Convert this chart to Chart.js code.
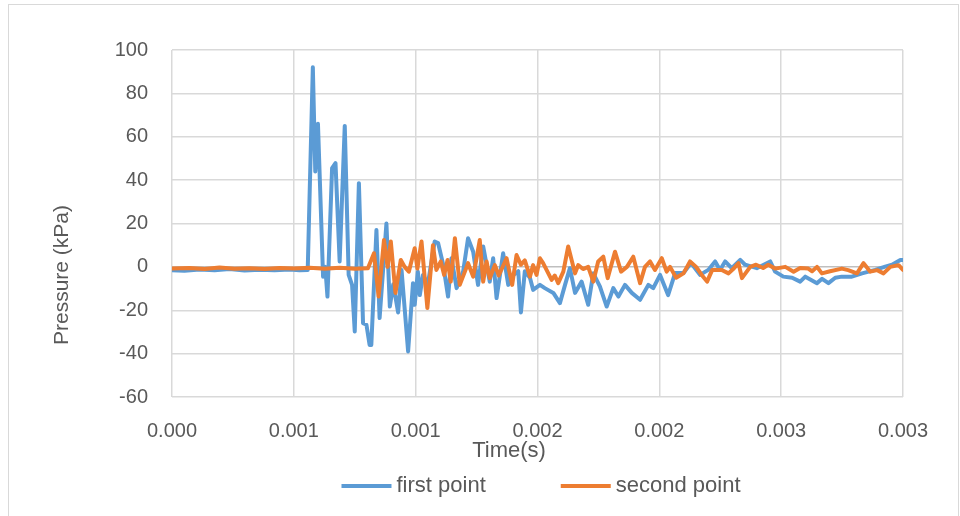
<!DOCTYPE html>
<html>
<head>
<meta charset="utf-8">
<script src="https://cdn.jsdelivr.net/npm/chart.js@4.4.1/dist/chart.umd.min.js"></script>
<style>
  html, body { margin: 0; padding: 0; background: #fff; }
  #wrap { position: relative; width: 960px; height: 516px; overflow: hidden; }
  #frame { position: absolute; left: 8px; top: 4px; width: 951px; height: 540px; border: 1px solid #d9d9d9; box-sizing: border-box; }
  #chart { position: absolute; left: 0; top: 0; }
</style>
</head>
<body>
<div id="wrap">
  <div id="frame"></div>
  <canvas id="chart" width="960" height="516"></canvas>
</div>
<script>
// time (s) and pressure (kPa)
const timeFirst = [0, 0.000051, 0.000113, 0.000175, 0.000236, 0.000298, 0.000359, 0.000421, 0.000483, 0.000524,
  0.000557, 0.000578, 0.000588, 0.000599, 0.000620, 0.000629, 0.000638, 0.000657, 0.000671, 0.000688,
  0.000709, 0.000725, 0.000739, 0.000750, 0.000767, 0.000784, 0.000798, 0.000811, 0.000818, 0.000839,
  0.000852, 0.000880, 0.000894, 0.000908, 0.000928, 0.000942, 0.000969, 0.000989, 0.000996, 0.001009,
  0.001017, 0.001030, 0.001050, 0.001078, 0.001092, 0.001113, 0.001133, 0.001147, 0.001168, 0.001195,
  0.001215, 0.001236, 0.001256, 0.001277, 0.001304, 0.001318, 0.001332, 0.001359, 0.001380, 0.001399,
  0.001421, 0.001432, 0.001448, 0.001469, 0.001482, 0.001510, 0.001530, 0.001565, 0.001592, 0.001613,
  0.001633, 0.001654, 0.001681, 0.001708, 0.001729, 0.001756, 0.001784, 0.001811, 0.001832, 0.001859,
  0.001887, 0.001921, 0.001955, 0.001975, 0.002003, 0.002036, 0.002065, 0.002099, 0.002130, 0.002167,
  0.002201, 0.002229, 0.002249, 0.002270, 0.002297, 0.002332, 0.002352, 0.002400, 0.002455, 0.002475,
  0.002509, 0.002545, 0.002578, 0.002599, 0.002647, 0.002668, 0.002694, 0.002722, 0.002749, 0.002790,
  0.002832, 0.002886, 0.002927, 0.002955, 0.002989, 0.003000];
const pressureFirst = [-1.5, -1.8, -1.2, -1.6, -1.0, -1.7, -1.3, -1.6, -1.2, -1.6,
  -1.4, 92, 44, 66, -4.5, 0, -13.7, 45.5, 47.8, 2.5,
  65, -3.7, -8.3, -29.8, 38.6, -26, -26.7, -36, -36, 17,
  -23.6, 20, -18.3, -8, -21, -1.4, -39, -7.5, -17.5, -2.2,
  -13, -3.7, -8, 11.7, 11, 1, -13.7, 4, -9.8, -2,
  13.2, 7, -8.3, 9.4, -6.8, 4, -14.4, 6.3, -8.3, -4,
  -2, -21, -2, -5, -10.6, -8.3, -9.8, -12, -16.7, -8.3,
  -0.6, -12, -6.8, -17.5, -3, -9, -18.3, -9.8, -13.7, -8.3,
  -12, -15.2, -8.3, -9.8, -3.7, -13, -2.8, -2.8, 1.8, -3.7,
  -1.4, 2.5, -1.4, 2.5, -0.6, 3.2, 1, -0.6, 2.5, -2.2,
  -4.5, -5, -6.8, -4.5, -7.5, -5.5, -7.5, -5, -4.5, -4.5,
  -3, -1.4, 0.1, 1, 3.2, 3.2];

const timeSecond = [0, 0.000072, 0.000134, 0.000195, 0.000257, 0.000318, 0.000380, 0.000442, 0.000503, 0.000565,
  0.000627, 0.000688, 0.000750, 0.000804, 0.000829, 0.000848, 0.000870, 0.000885, 0.000898, 0.000917,
  0.000939, 0.000955, 0.000972, 0.000996, 0.001007, 0.001024, 0.001048, 0.001071, 0.001085, 0.001103,
  0.001117, 0.001131, 0.001144, 0.001161, 0.001181, 0.001202, 0.001215, 0.001236, 0.001250, 0.001263,
  0.001277, 0.001291, 0.001304, 0.001325, 0.001341, 0.001373, 0.001396, 0.001414, 0.001432, 0.001448,
  0.001469, 0.001482, 0.001496, 0.001510, 0.001523, 0.001558, 0.001571, 0.001585, 0.001606, 0.001626,
  0.001654, 0.001667, 0.001687, 0.001708, 0.001729, 0.001749, 0.001770, 0.001788, 0.001818, 0.001843,
  0.001867, 0.001893, 0.001921, 0.001941, 0.001962, 0.001982, 0.002010, 0.002030, 0.002044, 0.002069,
  0.002099, 0.002126, 0.002151, 0.002174, 0.002196, 0.002217, 0.002256, 0.002284, 0.002303, 0.002325,
  0.002339, 0.002373, 0.002397, 0.002426, 0.002447, 0.002475, 0.002517, 0.002551, 0.002578, 0.002611,
  0.002627, 0.002647, 0.002667, 0.002701, 0.002749, 0.002775, 0.002811, 0.002838, 0.002866, 0.002894,
  0.002920, 0.002948, 0.002982, 0.003000];
const pressureSecond = [-0.8, -0.5, -1.0, -0.3, -0.9, -0.6, -1.0, -0.5, -0.8, -0.4,
  -0.9, -0.4, -0.9, -0.6, 6.3, -13.7, 12.4, 0, 11.7, -12,
  3.2, 0, -2.2, 8.6, -0.8, 11.7, -19, 10, -1.4, 2.5,
  -3.7, 3.2, -6.8, 13.2, -8.3, -2.2, 1.7, -4.5, 4, 12.4,
  -6.8, 2.5, -5.2, 0.8, -4, 4, -8.3, 5.5, 1, 3,
  -4.5, 0.8, -3.7, 4, 1.7, -6, -4, -7.5, -2.2, 9.4,
  -3, 0.8, -1, 0, -6.8, 2.5, 4.7, -5.2, 7, -2.2,
  0, 4.7, -7.5, 0, 2.5, -1.4, 4, -2.2, 0, -5,
  -3, 2.5, 0, -3.7, -6.8, -1.4, -1.4, -3, -1, 1.7,
  -5.2, 0, 1, -0.5, 1, -0.8, 0, -2.2, -0.5, -0.8,
  -2, 0, -3, -2, -0.8, -1.5, -3, 1.7, -2.2, -1.5,
  -3, 0, 0.8, -1.4];

const seriesNames = ['first point', 'second point'];
const seriesColors = ['#5B9BD5', '#ED7D31'];
// Excel rounds the 0.0005 steps to three decimals
const xTickLabels = ['0.000', '0.001', '0.001', '0.002', '0.002', '0.003', '0.003'];

const fontFamily = '"Liberation Sans", Arial, sans-serif';
const textColor = '#595959';
const gridColor = '#d9d9d9';

Chart.defaults.font.family = fontFamily;
Chart.defaults.color = textColor;

function toPoints(xs, ys) {
  return xs.map((x, i) => ({ x: x, y: ys[i] }));
}

function lineDataset(i, xs, ys, order) {
  return {
    label: seriesNames[i],
    data: toPoints(xs, ys),
    borderColor: seriesColors[i],
    backgroundColor: seriesColors[i],
    borderWidth: 4,
    borderJoinStyle: 'round',
    borderCapStyle: 'round',
    pointRadius: 0,
    tension: 0,
    order: order
  };
}

// axis titles and the legend are placed like the Excel original
const excelExtras = {
  id: 'excelExtras',
  afterDraw(chart) {
    const ctx = chart.ctx;
    ctx.save();
    ctx.fillStyle = textColor;
    ctx.textBaseline = 'middle';

    ctx.font = '21px ' + fontFamily;
    ctx.textAlign = 'center';
    ctx.save();
    ctx.translate(62, 275);
    ctx.rotate(-Math.PI / 2);
    ctx.fillText('Pressure (kPa)', 0, 0);
    ctx.restore();

    ctx.font = '22px ' + fontFamily;
    ctx.fillText('Time(s)', 509, 451);

    // legend
    const lineLen = 50, textGap = 5, itemGap = 75, legendY = 486;
    const widths = chart.data.datasets.map(ds => lineLen + textGap + ctx.measureText(ds.label).width);
    const total = widths.reduce((a, b) => a + b, 0) + itemGap * (widths.length - 1);
    let x = 541 - total / 2;
    ctx.textAlign = 'left';
    chart.data.datasets.forEach((ds, i) => {
      ctx.strokeStyle = ds.borderColor;
      ctx.lineWidth = 4;
      ctx.beginPath();
      ctx.moveTo(x, legendY);
      ctx.lineTo(x + lineLen, legendY);
      ctx.stroke();
      ctx.fillText(ds.label, x + lineLen + textGap, legendY);
      x += widths[i] + itemGap;
    });
    ctx.restore();
  }
};

new Chart(document.getElementById('chart'), {
  type: 'line',
  data: {
    datasets: [
      lineDataset(0, timeFirst, pressureFirst, 1),
      lineDataset(1, timeSecond, pressureSecond, 0)
    ]
  },
  options: {
    responsive: false,
    animation: false,
    devicePixelRatio: 1,
    layout: { padding: { top: 50, right: 57, bottom: 0, left: 0 } },
    plugins: {
      legend: { display: false },
      tooltip: { enabled: false }
    },
    scales: {
      x: {
        type: 'linear',
        min: 0,
        max: 0.003,
        afterFit: scale => { scale.height = 119; },
        border: { display: false },
        grid: { color: gridColor, lineWidth: 1.5, drawTicks: false },
        ticks: {
          stepSize: 0.0005,
          padding: 22,
          autoSkip: false,
          maxRotation: 0,
          color: textColor,
          font: { size: 20 },
          callback: (value, index) => xTickLabels[index]
        }
      },
      y: {
        min: -60,
        max: 100,
        afterFit: scale => { scale.width = 172; },
        border: { display: false },
        grid: {
          color: ctx => (ctx.tick && ctx.tick.value === 0) ? '#bfbfbf' : gridColor,
          lineWidth: 1.5,
          drawTicks: false
        },
        ticks: {
          stepSize: 20,
          padding: 24,
          color: textColor,
          font: { size: 20 }
        }
      }
    }
  },
  plugins: [excelExtras]
});
</script>
</body>
</html>
